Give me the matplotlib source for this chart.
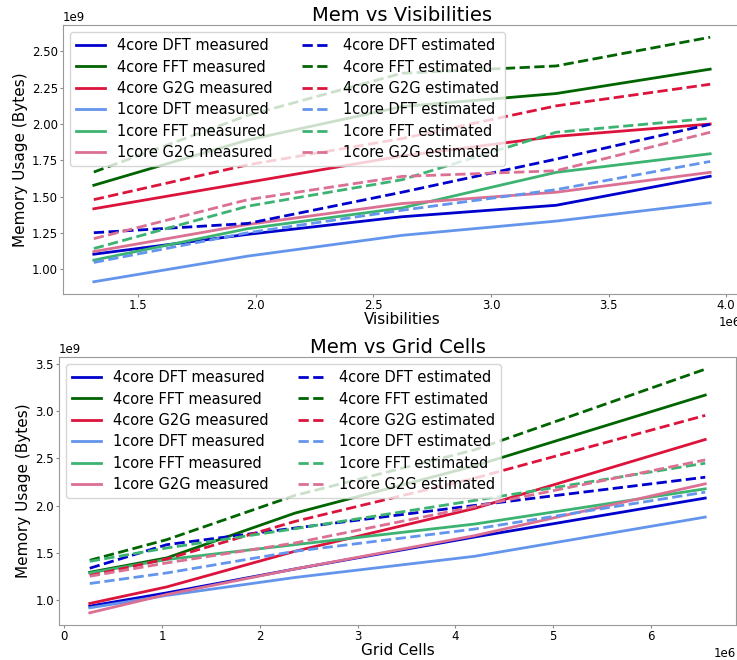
import matplotlib
matplotlib.use("Agg")
import matplotlib.pyplot as plt

# ---------------- data ----------------
visibilities = [1310720, 1966080, 2621440, 3276800, 3932160]
grid_cells = [262144, 1048576, 2359296, 4194304, 6553600]

series_names = ["4core DFT", "4core FFT", "4core G2G", "1core DFT", "1core FFT", "1core G2G"]
series_colors = ["mediumblue", "darkgreen", "crimson", "cornflowerblue", "mediumseagreen", "palevioletred"]

# Memory vs visibilities (bytes, x1e9)
vis_measured = {
    "4core DFT": [1.103, 1.24, 1.361, 1.44, 1.64],
    "4core FFT": [1.578, 1.89, 2.12, 2.21, 2.378],
    "4core G2G": [1.416, 1.598, 1.78, 1.915, 2.0],
    "1core DFT": [0.913, 1.09, 1.233, 1.331, 1.457],
    "1core FFT": [1.062, 1.279, 1.422, 1.667, 1.795],
    "1core G2G": [1.121, 1.308, 1.452, 1.53, 1.667],
}
vis_estimated = {
    "4core DFT": [1.251, 1.315, 1.53, 1.758, 1.998],
    "4core FFT": [1.669, 2.06, 2.35, 2.40, 2.598],
    "4core G2G": [1.479, 1.719, 1.90, 2.125, 2.274],
    "1core DFT": [1.046, 1.251, 1.406, 1.548, 1.742],
    "1core FFT": [1.142, 1.434, 1.616, 1.943, 2.039],
    "1core G2G": [1.21, 1.479, 1.639, 1.678, 1.943],
}

# Memory vs grid cells (bytes, x1e9)
grid_measured = {
    "4core DFT": [0.937, 1.077, 1.33, 1.668, 2.08],
    "4core FFT": [1.295, 1.447, 1.921, 2.42, 3.17],
    "4core G2G": [0.965, 1.14, 1.517, 1.97, 2.70],
    "1core DFT": [0.919, 1.05, 1.24, 1.464, 1.879],
    "1core FFT": [1.288, 1.43, 1.587, 1.805, 2.178],
    "1core G2G": [0.866, 1.06, 1.33, 1.682, 2.231],
}
grid_estimated = {
    "4core DFT": [1.338, 1.587, 1.763, 2.002, 2.301],
    "4core FFT": [1.422, 1.64, 2.108, 2.59, 3.444],
    "4core G2G": [1.26, 1.436, 1.833, 2.29, 2.955],
    "1core DFT": [1.176, 1.288, 1.517, 1.752, 2.143],
    "1core FFT": [1.411, 1.552, 1.756, 2.055, 2.449],
    "1core G2G": [1.253, 1.394, 1.605, 1.99, 2.484],
}

# ---------------- plotting ----------------
plt.rcParams["font.family"] = ["DejaVu Sans"]
fig = plt.figure(figsize=(7.37, 6.60), dpi=100)

ax1 = fig.add_axes([63 / 737, 1 - 294 / 660, (741 - 63) / 737, (294 - 25) / 660])
ax2 = fig.add_axes([59 / 737, 1 - 625 / 660, (736 - 59) / 737, (625 - 357) / 660])

def draw(ax, x, measured, estimated, title, xlabel):
    for name, col in zip(series_names, series_colors):
        ax.plot(x, [v * 1e9 for v in measured[name]], color=col, lw=2, ls="-",
                label=f"{name} measured")
    for name, col in zip(series_names, series_colors):
        ax.plot(x, [v * 1e9 for v in estimated[name]], color=col, lw=2, ls="--",
                label=f"{name} estimated")
    ax.set_title(title, fontsize=14, pad=3)
    ax.set_xlabel(xlabel, fontsize=11, labelpad=0)
    ax.set_ylabel("Memory Usage (Bytes)", fontsize=11, labelpad=3)
    ax.tick_params(labelsize=8.5, color="0.55", length=2, pad=1.5)
    ax.xaxis.get_offset_text().set_fontsize(8.5)
    ax.yaxis.get_offset_text().set_fontsize(8.5)
    for sp in ax.spines.values():
        sp.set_color("0.6")
    ax.legend(ncol=2, loc="upper left", fontsize=10.5, labelspacing=0.44,
              handlelength=2.0, columnspacing=2.0)

draw(ax1, visibilities, vis_measured, vis_estimated, "Mem vs Visibilities", "Visibilities")
draw(ax2, grid_cells, grid_measured, grid_estimated, "Mem vs Grid Cells", "Grid Cells")

fig.savefig("out.png", dpi=100)
